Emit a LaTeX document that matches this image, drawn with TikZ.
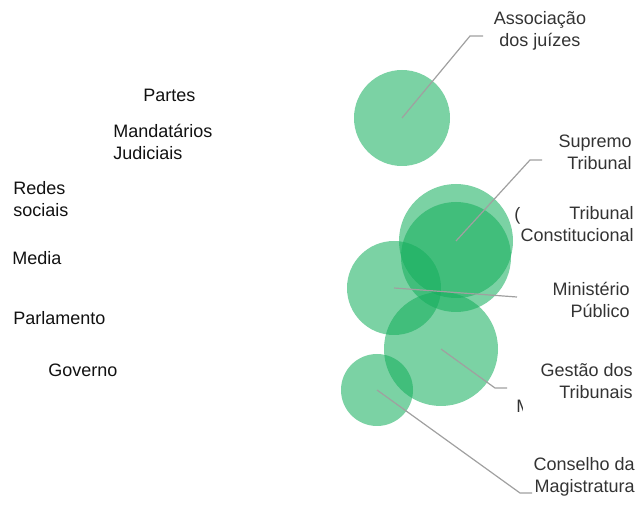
\documentclass[tikz,border=0pt]{standalone}
\usepackage{fontspec}
\setmainfont{Liberation Sans}
\begin{document}
\begin{tikzpicture}[x=0.75pt,y=-0.75pt,
  bub/.style={circle,draw=none,fill={rgb,255:red,20;green,174;blue,92},fill opacity=0.56,inner sep=0,minimum size=#1*1.5pt},
  lead/.style={draw={rgb,255:red,160;green,160;blue,160},line width=0.9pt},
  rlab/.style={font=\fontsize{13.5}{16.5}\selectfont,text={rgb,255:red,51;green,51;blue,51},align=right,anchor=base east,inner sep=0},
  clab/.style={font=\fontsize{13.5}{16.5}\selectfont,text={rgb,255:red,51;green,51;blue,51},align=center,anchor=base,inner sep=0},
  llab/.style={font=\fontsize{13.5}{16.5}\selectfont,text={rgb,255:red,17;green,17;blue,17},align=left,anchor=base west,inner sep=0}]
\useasboundingbox (0,0) rectangle (640,506);
% bubbles
\node[bub=48] (cA) at (402,118) {};
\node[bub=57] (cS) at (456,241) {};
\node[bub=55] (cT) at (456,257) {};
\node[bub=47] (cM) at (394,288) {};
\node[bub=57] (cG) at (441,349) {};
\node[bub=36] (cC) at (377,390) {};
% right labels (base anchor = last line)
\node[clab] (lA) at (540,47) {Associação\\dos juízes};
\node[rlab] (lS) at (632,170) {Supremo\\Tribunal};
\node[rlab] (lT) at (634,242) {Tribunal\\Constitucional};
\node[rlab] (lM) at (630,318) {Ministério\\Público};
\node[rlab] (lG) at (633,398) {Gestão dos\\Tribunais};
\node[rlab] (lC) at (635,492) {Conselho da\\Magistratura};
% stray clipped glyphs
\node[llab,text={rgb,255:red,51;green,51;blue,51}] (xP) at (514,221) {(};
\begin{scope}
\clip (513,390) rectangle (522,416);
\node[llab,text={rgb,255:red,51;green,51;blue,51}] (xM) at (516,412) {M};
\end{scope}
% leader bends
\coordinate (bA) at (470,36);  \coordinate (eA) at (483,36);
\coordinate (bS) at (530,160); \coordinate (eS) at (542,160);
\coordinate (eM) at (517,297);
\coordinate (bG) at (495,388); \coordinate (eG) at (507,388);
\coordinate (bC) at (520,493); \coordinate (eC) at (532,493);
\draw[lead] (cA.center) -- (bA) -- (eA);
\draw[lead] (cS.center) -- (bS) -- (eS);
\draw[lead] (cM.center) -- (eM);
\draw[lead] (cG.center) -- (bG) -- (eG);
\draw[lead] (cC.center) -- (bC) -- (eC);
% left labels
\node[llab] (pa) at (143,102) {Partes};
\node[llab] (md) at (113,160) {Mandatários\\Judiciais};
\node[llab] (rs) at (13,217) {Redes\\sociais};
\node[llab] (me) at (12,265) {Media};
\node[llab] (pl) at (13,325) {Parlamento};
\node[llab] (go) at (48,377) {Governo};
\end{tikzpicture}
\end{document}
